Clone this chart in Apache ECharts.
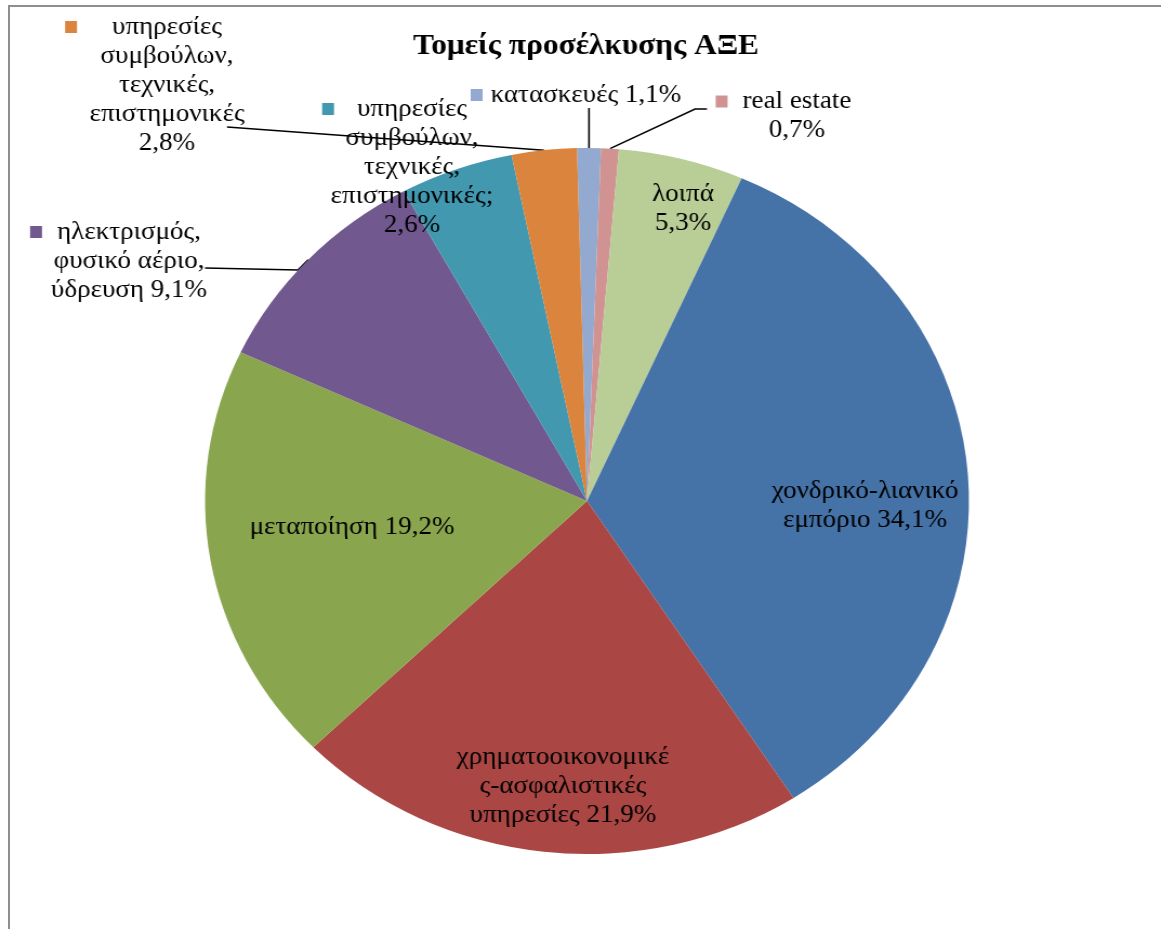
<!DOCTYPE html>
<html>
<head>
    <meta charset="utf-8">
    <title>Τομείς προσέλκυσης ΑΞΕ</title>
    <style type="text/css">
        html, body {
            margin: 0;
            padding: 0;
            background: #ffffff;
            overflow: hidden;
        }
        #frame {
            position: absolute;
            left: 8px;
            top: 5px;
            width: 1200px;
            height: 960px;
            border-left: 2px solid #8e8e8e;
            border-top: 2px solid #8e8e8e;
        }
        /* the original picture is a little wider than tall, so the chart is stretched */
        #main {
            position: absolute;
            left: 0;
            top: 0;
            width: 1073px;
            height: 929px;
            transform: scaleX(1.082);
            transform-origin: 0 0;
        }
    </style>
</head>
<body>
    <div id="frame"></div>
    <div id="main"></div>
</body>
<script src="https://cdn.jsdelivr.net/npm/echarts@6/dist/echarts.min.js"></script>
<script type="text/javascript">
    var SX = 1.082;
    var FONT = '"Liberation Serif", "Times New Roman", serif';

    // slices clockwise from the top
    var names = ['κατασκευές', 'real estate', 'λοιπά', 'χονδρικό-λιανικό εμπόριο',
        'χρηματοοικονομικές-ασφαλιστικές υπηρεσίες', 'μεταποίηση',
        'ηλεκτρισμός, φυσικό αέριο, ύδρευση', 'υπηρεσίες συμβούλων, τεχνικές, επιστημονικές;',
        'υπηρεσίες συμβούλων, τεχνικές, επιστημονικές'];
    var values = [1.0, 0.75, 5.3, 34.25, 21.8, 19.2, 10.1, 4.8, 2.75];
    var labelTexts = [
        'κατασκευές 1,1%',
        'real estate\n0,7%',
        'λοιπά\n5,3%',
        'χονδρικό-λιανικό\nεμπόριο 34,1%',
        'χρηματοοικονομικέ\nς-ασφαλιστικές\nυπηρεσίες 21,9%',
        'μεταποίηση 19,2%',
        'ηλεκτρισμός,\nφυσικό αέριο,\nύδρευση 9,1%',
        'υπηρεσίες\nσυμβούλων,\nτεχνικές,\nεπιστημονικές;\n2,6%',
        'υπηρεσίες\nσυμβούλων,\nτεχνικές,\nεπιστημονικές\n2,8%'
    ];
    var colors = ['#93A9CF', '#D19392', '#B9CD96', '#4572A7', '#AA4643',
        '#89A54E', '#71588F', '#4198AF', '#DB843D'];

    // where each label sits (picture px), gap after the colour key, leader line bends
    var labelPos = [
        { x: 576, y: 95, key: 8, sym: false, line: [[589, 108], [589, 108]] },
        { x: 797, y: 116, key: 15, sym: true, line: [[695, 109], [707, 109]] },
        { x: 683, y: 209 },
        { x: 865, y: 506 },
        { x: 563, y: 786 },
        { x: 352, y: 527 },
        { x: 129, y: 261, key: 15, sym: true, line: [[298, 270], [205, 268]] },
        { x: 412, y: 167, key: 23, sym: true },
        { x: 167, y: 85, key: 35, sym: true, line: [[227, 127], [227, 127]] }
    ];

    var rich = {
        t: { fontFamily: FONT, fontSize: 25, lineHeight: 29, color: '#000000' }
    };
    var data = [];
    for (var i = 0; i < names.length; i++) {
        var L = labelPos[i];
        if (L.key) {
            rich['k' + i] = { width: 11, height: 12, backgroundColor: colors[i], lineHeight: 29 };
            rich['g' + i] = { width: L.key / SX, lineHeight: 29 };
            rich['r' + i] = { width: 11 + L.key / SX, lineHeight: 29 };
        }
        data.push({
            name: names[i],
            value: values[i],
            itemStyle: { color: colors[i] },
            label: { position: L.line ? 'outside' : 'inside' },
            labelLine: { show: !!L.line }
        });
    }

    function labelFormatter(p) {
        var i = p.dataIndex;
        var L = labelPos[i];
        var lines = labelTexts[i].split('\n').map(function (s) {
            return '{t|' + s + '}';
        });
        if (L.key) {
            lines[0] = '{k' + i + '|}{g' + i + '|}' + lines[0] + (L.sym ? '{r' + i + '|}' : '');
        }
        return lines.join('\n');
    }

    var option = {
        backgroundColor: 'transparent',
        animation: false,
        title: {
            text: 'Τομείς προσέλκυσης ΑΞΕ',
            left: 586 / SX,
            top: 32,
            textAlign: 'center',
            padding: 0,
            textStyle: {
                fontFamily: FONT,
                fontWeight: 'bold',
                fontSize: 29,
                color: '#000000'
            }
        },
        series: [{
            type: 'pie',
            center: [587 / SX, 501],
            radius: 353,
            startAngle: 91.5,
            clockwise: true,
            avoidLabelOverlap: false,
            itemStyle: { borderWidth: 0 },
            emphasis: { disabled: true },
            label: {
                show: true,
                formatter: labelFormatter,
                fontFamily: FONT,
                fontSize: 25,
                lineHeight: 29,
                color: '#000000',
                align: 'center',
                rich: rich
            },
            labelLine: {
                lineStyle: { color: '#000000', width: 1.6 }
            },
            labelLayout: function (p) {
                var L = labelPos[p.dataIndex];
                var out = { x: L.x / SX, y: L.y, align: 'center', verticalAlign: 'middle' };
                if (L.line && p.labelLinePoints) {
                    out.labelLinePoints = [
                        p.labelLinePoints[0],
                        [L.line[0][0] / SX, L.line[0][1]],
                        [L.line[1][0] / SX, L.line[1][1]]
                    ];
                }
                return out;
            },
            data: data
        }]
    };

    var myChart = echarts.init(document.getElementById('main'));
    myChart.setOption(option);
</script>
</html>
